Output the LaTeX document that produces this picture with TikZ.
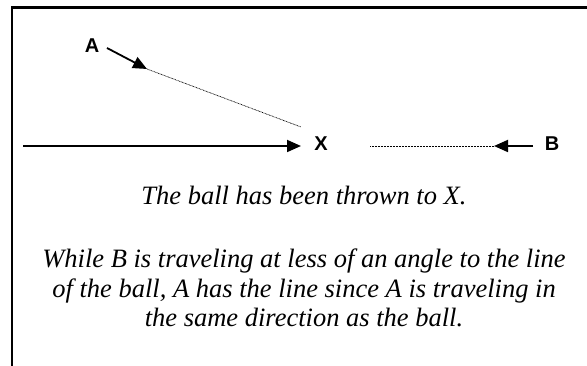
\documentclass[tikz,border=0pt]{standalone}
\usepackage{fontspec}
\setmainfont{Liberation Serif}
\setsansfont{Liberation Sans}
\usetikzlibrary{arrows.meta}

\begin{document}
\begin{tikzpicture}[
      x=1pt,y=-1pt,
      lbl/.style={font=\fontsize{20}{22}\selectfont\sffamily\bfseries,inner sep=0pt},
      caption/.style={font=\fontsize{26.5}{29.5}\selectfont\itshape,align=center,anchor=base},
      arrow/.style={-{Triangle[length=14pt,width=12pt]},line width=1.8pt},
      track/.style={line width=0.7pt,dash pattern=on 0.8pt off 0.7pt}
    ]
      \useasboundingbox (0,0) rectangle (587,366);
      \draw[line width=2.2pt] (587,7.5) -- (12,7.5) -- (12,366);

      \node[lbl] (labA) at (92,46) {A};
      \node[lbl] (ballX) at (321,144) {X};
      \node[lbl] (labB) at (552,144) {B};

      \coordinate (aStart) at (107,48);
      \coordinate (aTip) at (147,69);
      \coordinate (aEnd) at (301,127);
      \coordinate (throw) at (23,146);
      \coordinate (xTip) at (301,146);
      \coordinate (bStart) at (533,146);
      \coordinate (bTip) at (494,146);
      \coordinate (bEnd) at (370,146);

      \draw[arrow] (aStart) -- (aTip);
      \draw[track] (aTip) -- (aEnd);
      \draw[arrow] (throw) -- (xTip);
      \draw[arrow] (bStart) -- (bTip);
      \draw[track] (bTip) -- (bEnd);

      \node[caption] (thrown) at (304,205) {The ball has been thrown to X.};
      \node[caption] (reason) at (304,327) {While B is traveling at less of an angle to the line\\of the ball, A has the line since A is traveling in\\the same direction as the ball.};
\end{tikzpicture}
\end{document}
